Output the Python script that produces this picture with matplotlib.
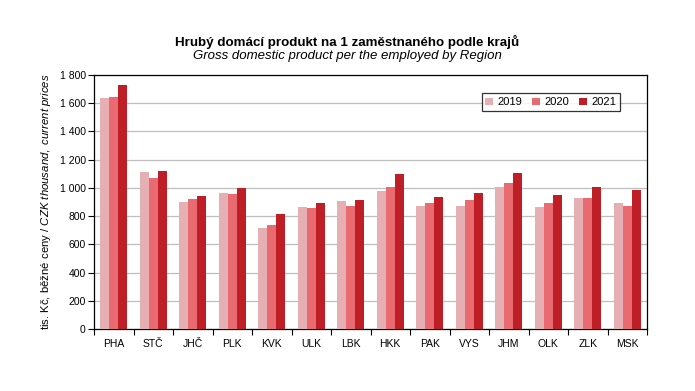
import matplotlib
matplotlib.use("Agg")
import matplotlib.pyplot as plt
import numpy as np

plt.rcParams['font.family'] = ['Liberation Sans', 'DejaVu Sans']
plt.rcParams['mathtext.fontset'] = 'custom'
plt.rcParams['mathtext.it'] = 'Liberation Sans:italic'
plt.rcParams['mathtext.rm'] = 'Liberation Sans'

# data
regions = ["PHA", "STČ", "JHČ", "PLK", "KVK", "ULK", "LBK", "HKK",
           "PAK", "VYS", "JHM", "OLK", "ZLK", "MSK"]
years = ["2019", "2020", "2021"]
v2019 = [1637, 1113, 900, 964, 716, 865, 907, 978, 872, 872, 1006, 865, 928, 893]
v2020 = [1646, 1070, 921, 957, 737, 857, 872, 1006, 893, 914, 1035, 893, 928, 872]
v2021 = [1729, 1120, 943, 999, 815, 893, 914, 1098, 935, 964, 1106, 950, 1006, 985]
colors = ["#E6AFB3", "#E96A71", "#BE1E26"]

fig = plt.figure(figsize=(6.95, 3.91), dpi=100)
ax = fig.add_axes([94/695, 1-329/391, 553/695, 254/391])

x = np.arange(len(regions))
w = 0.228
for i, (vals, yr) in enumerate(zip([v2019, v2020, v2021], years)):
    ax.bar(x + (i-1)*w, vals, w, color=colors[i], label=yr, zorder=3)

ax.set_xlim(-0.5, len(regions)-0.5)
ax.set_ylim(0, 1800)
ax.set_yticks(range(0, 1801, 200))
ax.set_yticklabels([f"{v:,}".replace(",", " ") for v in range(0, 1801, 200)], fontsize=7.5)
ax.yaxis.grid(True, color="#BFBFBF", linewidth=0.9, zorder=0)

# tick marks between categories, labels centered
ax.set_xticks(np.arange(-0.5, len(regions), 1))
ax.set_xticklabels([])
ax.set_xticks(x, minor=True)
ax.set_xticklabels(regions, minor=True, fontsize=7.5)
ax.tick_params(axis='x', which='major', length=4, direction='out', width=0.8)
ax.tick_params(axis='x', which='minor', length=0, pad=7)
ax.tick_params(axis='y', length=4, direction='out', width=0.8, pad=2)

for s in ax.spines.values():
    s.set_linewidth(0.9)
    s.set_color("black")

ax.set_ylabel("tis. Kč, běžné ceny / $\\it{CZK\\ thousand,\\ current\\ prices}$", fontsize=8.2, labelpad=5)

leg = ax.legend(loc='upper right', bbox_to_anchor=(0.962, 0.95), ncol=3, fontsize=8,
                frameon=True, fancybox=False, edgecolor="black", handlelength=0.65,
                handleheight=0.65, handletextpad=0.45, columnspacing=0.9, borderpad=0.35)
leg.get_frame().set_linewidth(0.9)

fig.text(0.5, 1-42/391, "Hrubý domácí produkt na 1 zaměstnaného podle krajů",
         ha='center', va='center', fontsize=9.6, fontweight='bold')
fig.text(0.5, 1-56/391, "Gross domestic product per the employed by Region",
         ha='center', va='center', fontsize=9.5, style='italic')

fig.savefig("out.png", dpi=100)
